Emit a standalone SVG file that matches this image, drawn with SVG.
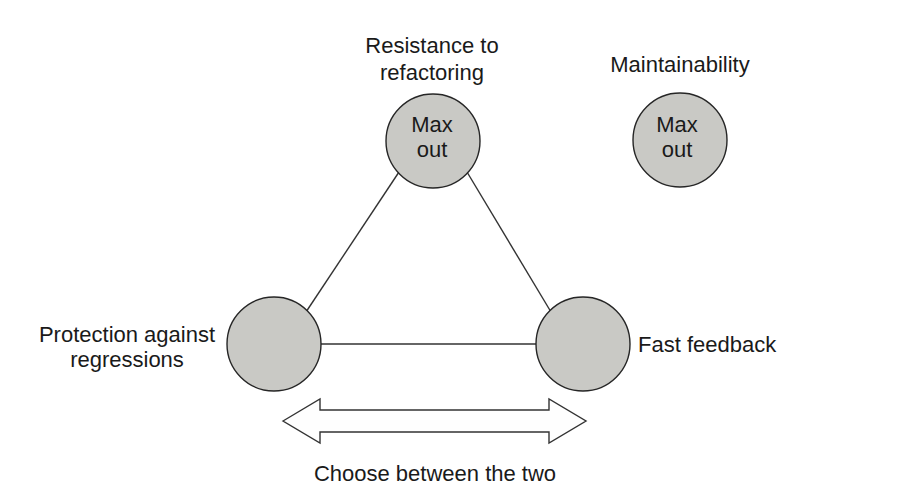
<svg xmlns="http://www.w3.org/2000/svg" width="906" height="500" viewBox="0 0 906 500">
<style>
.node circle{fill:#c9c9c5;stroke:#262626;stroke-width:1.4}
text{font-family:"Liberation Sans",Arial,sans-serif;font-size:22px;fill:#1a1a1a}
.c{text-anchor:middle}
.conn line{stroke:#333;stroke-width:1.4}
.arrow{fill:#fefefe;stroke:#333;stroke-width:1.4;stroke-linejoin:miter}
</style>
<rect width="906" height="500" fill="#fff"/>
<g id="connectors" class="conn">
<line x1="306" y1="312" x2="399" y2="172"/>
<line x1="467" y1="172" x2="551" y2="312"/>
<line x1="321" y1="344" x2="536" y2="344"/>
</g>
<g id="node-resistance" class="node">
<circle cx="433" cy="141" r="47"/>
<text class="c" x="432" y="53">Resistance to</text>
<text class="c" x="432" y="80">refactoring</text>
<text class="c" x="432" y="132">Max</text>
<text class="c" x="432" y="157">out</text>
</g>
<g id="node-maintainability" class="node">
<circle cx="680" cy="140" r="47"/>
<text class="c" x="680" y="72">Maintainability</text>
<text class="c" x="677" y="132">Max</text>
<text class="c" x="677" y="157">out</text>
</g>
<g id="node-protection" class="node">
<circle cx="274" cy="344" r="47"/>
<text class="c" x="127" y="342">Protection against</text>
<text class="c" x="127" y="367">regressions</text>
</g>
<g id="node-fast" class="node">
<circle cx="583" cy="344" r="47"/>
<text x="638" y="352">Fast feedback</text>
</g>
<g id="choose">
<polygon class="arrow" points="283,421 320,399 320,410 549,410 549,399 586,421 549,443 549,432 320,432 320,443"/>
<text class="c" x="435" y="481">Choose between the two</text>
</g>
</svg>
